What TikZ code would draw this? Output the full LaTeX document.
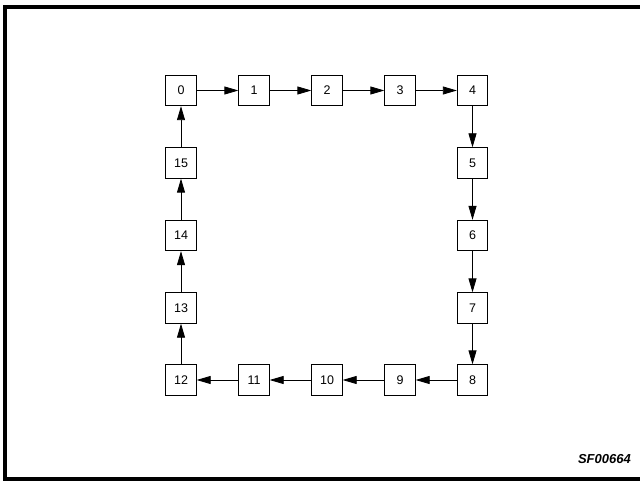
\documentclass[tikz,border=0pt]{standalone}
\usepackage{fontspec}
\setmainfont{Liberation Sans}
\usetikzlibrary{arrows.meta}
\begin{document}
\begin{tikzpicture}[x=1bp,y=-1bp,
  cell/.style={draw, line width=0.8bp, minimum size=30.5bp, inner sep=0pt, font=\fontsize{12.5bp}{14bp}\selectfont},
  link/.style={line width=0.8bp, -{Triangle[length=14bp,width=8bp]}}]
\useasboundingbox (0,0) rectangle (640,481);
\draw[line width=4bp] (640,7) -- (5,7) -- (5,479) -- (640,479);
\node[cell] (n0) at (181,90.5) {0};
\node[cell] (n1) at (254,90.5) {1};
\node[cell] (n2) at (327,90.5) {2};
\node[cell] (n3) at (400,90.5) {3};
\node[cell] (n4) at (472.5,90.5) {4};
\node[cell] (n5) at (472.5,163) {5};
\node[cell] (n6) at (472.5,235.5) {6};
\node[cell] (n7) at (472.5,308) {7};
\node[cell] (n8) at (472.5,380) {8};
\node[cell] (n9) at (400,380) {9};
\node[cell] (n10) at (327,380) {10};
\node[cell] (n11) at (254,380) {11};
\node[cell] (n12) at (181,380) {12};
\node[cell] (n13) at (181,308) {13};
\node[cell] (n14) at (181,235.5) {14};
\node[cell] (n15) at (181,163) {15};
\foreach \a/\b in {0/1,1/2,2/3,3/4,4/5,5/6,6/7,7/8,8/9,9/10,10/11,11/12,12/13,13/14,14/15,15/0}
  \draw[link] (n\a) -- (n\b);
\node[anchor=east, inner sep=0pt, font=\fontsize{13bp}{15bp}\selectfont\itshape\bfseries] (lbl) at (631,459) {SF00664};
\end{tikzpicture}
\end{document}
